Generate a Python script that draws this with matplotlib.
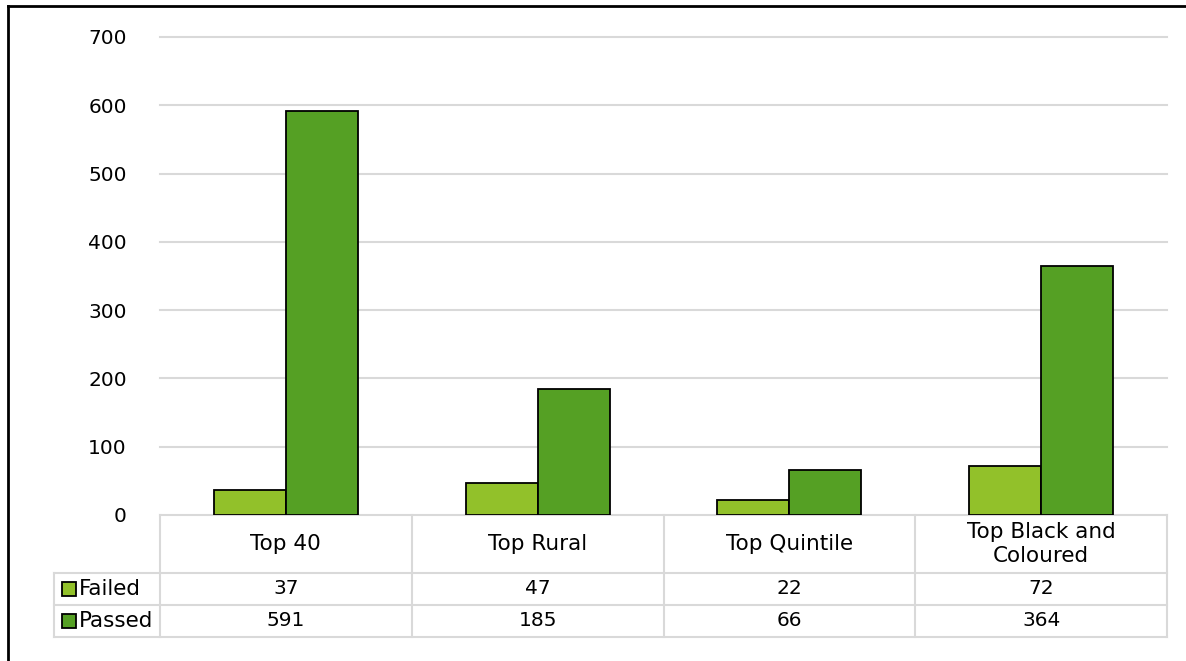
import matplotlib
matplotlib.use("Agg")
import matplotlib.pyplot as plt
from matplotlib.lines import Line2D
from matplotlib.patches import Rectangle
import matplotlib.transforms as mtransforms
import numpy as np

categories = ["Top 40", "Top Rural", "Top Quintile", "Top Black and\nColoured"]
series_names = ["Failed", "Passed"]
failed = [37, 47, 22, 72]
passed = [591, 185, 66, 364]
yticks = [0, 100, 200, 300, 400, 500, 600, 700]

colors = {"Failed": "#92C12A", "Passed": "#55A024"}
W, H = 1186, 661
plt.rcParams['font.family'] = ['DejaVu Sans']
FS_NUM = 14
FS_TXT = 15.5

fig = plt.figure(figsize=(W / 100, H / 100), dpi=100)

def fx(px):
    return px / W

def fy(py):
    return 1 - py / H

ax_l, ax_r, ax_t, ax_b = 160, 1167, 37, 515
ax = fig.add_axes([fx(ax_l), fy(ax_b), fx(ax_r - ax_l), fy(ax_t) - fy(ax_b)])

x = np.arange(len(categories))
bw = 0.286
ax.bar(x - bw / 2, failed, bw, color=colors["Failed"], edgecolor="black", linewidth=1.3, zorder=3)
ax.bar(x + bw / 2, passed, bw, color=colors["Passed"], edgecolor="black", linewidth=1.3, zorder=3)

ax.set_xlim(-0.5, len(categories) - 0.5)
ax.set_ylim(0, 700)
ax.set_yticks(yticks)
ax.set_yticklabels([str(v) for v in yticks], fontsize=FS_NUM + 0.5)
ax.tick_params(axis='y', length=0, pad=24)
ax.set_xticks([])
for s in ax.spines.values():
    s.set_visible(False)
ax.yaxis.grid(True, color="#d9d9d9", linewidth=1.5, zorder=0)
for gl in ax.get_ygridlines():
    gl.set_clip_on(False)
ax.set_axisbelow(True)

# Data table
grid_c = "#d9d9d9"
lw = 1.5
trans = mtransforms.blended_transform_factory(ax.transData, fig.transFigure)
row_top = 515
header_bot = 573
row_h = 32
label_left = 54
n = len(categories)
bounds = np.arange(n + 1) - 0.5

def hline_fig(x0px, x1px, ypx):
    fig.add_artist(Line2D([fx(x0px), fx(x1px)], [fy(ypx), fy(ypx)], color=grid_c, lw=lw))

def vline_fig(xpx, y0px, y1px):
    fig.add_artist(Line2D([fx(xpx), fx(xpx)], [fy(y0px), fy(y1px)], color=grid_c, lw=lw))

for b in bounds:
    fig.add_artist(Line2D([b, b], [fy(row_top), fy(header_bot + 2 * row_h)], color=grid_c, lw=lw, transform=trans))
for k in range(3):
    hline_fig(label_left, ax_r, header_bot + k * row_h)
vline_fig(label_left, header_bot, header_bot + 2 * row_h)

for i, c in enumerate(categories):
    fig.text(i, fy((row_top + header_bot) / 2), c, transform=trans, ha='center', va='center',
             fontsize=FS_TXT, linespacing=1.25)
for r, (name, vals) in enumerate(zip(series_names, [failed, passed])):
    yc = header_bot + row_h * (r + 0.5)
    for i, v in enumerate(vals):
        fig.text(i, fy(yc), str(v), transform=trans, ha='center', va='center', fontsize=FS_NUM + 0.5)
    ks = 14
    fig.add_artist(Rectangle((fx(62), fy(yc + ks / 2)), fx(ks), fy(0) - fy(ks),
                             facecolor=colors[name], edgecolor="black", lw=1.3))
    fig.text(fx(79), fy(yc), name, ha='left', va='center', fontsize=FS_TXT)

# outer frame (top and left)
fig.add_artist(Line2D([fx(8), 1], [fy(6), fy(6)], color="black", lw=2))
fig.add_artist(Line2D([fx(8), fx(8)], [fy(6), 0], color="black", lw=2))

fig.savefig("out.png", dpi=100)
